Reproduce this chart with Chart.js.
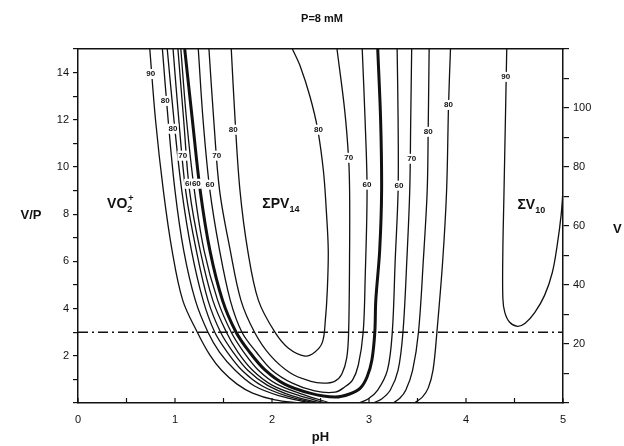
<!DOCTYPE html>
<html>
<head>
<meta charset="utf-8">
<script src="https://cdn.jsdelivr.net/npm/chart.js@4.4.1/dist/chart.umd.min.js"></script>
<style>
  html, body { margin: 0; padding: 0; background: #fff; }
  canvas { display: block; }
</style>
</head>
<body>
<canvas id="contours" width="624" height="446"></canvas>
<script>
// x = pH, left y = V/P, right y = V (P = 8 mM, so V = 8 * V/P)
const ink = '#111';

// VO2+ contours (left family)
const c1pH = [0.74, 0.80, 0.88, 0.97, 1.08, 1.23, 1.36, 1.48, 1.64, 1.80, 2.03, 2.29];
const c1VP = [15, 11.96, 9.0, 6.46, 4.35, 3.0, 2.03, 1.39, 0.80, 0.42, 0.13, 0];
const c2pH = [0.87, 0.93, 1.0, 1.09, 1.21, 1.34, 1.46, 1.62, 1.82, 2.08, 2.39];
const c2VP = [15, 11.96, 9.0, 6.46, 4.35, 3.0, 2.15, 1.39, 0.72, 0.30, 0];
const c3pH = [0.92, 0.99, 1.07, 1.17, 1.29, 1.41, 1.54, 1.69, 1.90, 2.15, 2.44];
const c3VP = [15, 11.96, 9.0, 6.46, 4.35, 3.0, 2.15, 1.39, 0.72, 0.30, 0];
const c4pH = [0.98, 1.04, 1.11, 1.22, 1.34, 1.47, 1.60, 1.75, 1.95, 2.21, 2.49];
const c4VP = [15, 11.96, 9.0, 6.46, 4.35, 3.0, 2.15, 1.39, 0.76, 0.30, 0];
const c5pH = [1.03, 1.09, 1.15, 1.26, 1.39, 1.53, 1.65, 1.80, 2.0, 2.26, 2.55];
const c5VP = [15, 11.96, 9.0, 6.46, 4.35, 3.0, 2.15, 1.39, 0.76, 0.34, 0];
const c6pH = [1.06, 1.12, 1.20, 1.30, 1.44, 1.58, 1.71, 1.86, 2.05, 2.31, 2.60];
const c6VP = [15, 11.96, 9.0, 6.46, 4.35, 3.0, 2.15, 1.39, 0.80, 0.38, 0];

// thick boundary and the PV14 U-shaped contours
const c7pH = [1.10, 1.18, 1.26, 1.36, 1.49, 1.63, 1.77, 1.93, 2.13, 2.39, 2.65, 2.80, 2.91, 2.98, 3.03, 3.06, 3.07, 3.11, 3.13, 3.12, 3.09];
const c7VP = [15, 11.96, 9.0, 6.46, 4.35, 3.0, 2.15, 1.39, 0.80, 0.42, 0.25, 0.38, 0.63, 1.10, 1.82, 3.0, 4.35, 6.46, 9.0, 11.96, 15];
const c8pH = [1.24, 1.29, 1.36, 1.46, 1.57, 1.69, 1.84, 2.0, 2.21, 2.44, 2.65, 2.75, 2.83, 2.89, 2.94, 2.96, 2.98, 2.96, 2.93];
const c8VP = [15, 11.96, 9.0, 6.46, 4.35, 3.0, 2.15, 1.39, 0.84, 0.51, 0.46, 0.68, 0.97, 1.61, 3.0, 5.20, 9.0, 11.96, 15];
const c9pH = [1.35, 1.40, 1.46, 1.57, 1.68, 1.82, 1.98, 2.19, 2.39, 2.53, 2.65, 2.72, 2.77, 2.79, 2.80, 2.80, 2.79, 2.75, 2.67];
const c9VP = [15, 11.96, 9.0, 6.46, 4.35, 3.0, 2.03, 1.27, 0.93, 0.84, 0.93, 1.23, 1.90, 3.0, 6.46, 9.0, 10.35, 12.38, 15];
const c10pH = [1.58, 1.62, 1.67, 1.75, 1.86, 2.03, 2.17, 2.34, 2.44, 2.52, 2.55, 2.57, 2.58, 2.56, 2.53, 2.47, 2.39, 2.29, 2.21];
const c10VP = [15, 11.96, 9.0, 6.46, 4.35, 3.0, 2.32, 1.99, 2.15, 2.58, 3.51, 4.77, 6.46, 8.15, 9.84, 11.62, 13.01, 14.28, 15];

// V10 contours rising from the bottom
const r1pH = [3.29, 3.30, 3.30, 3.27, 3.24, 3.19, 3.09, 2.99, 2.89];
const r1VP = [15, 11.96, 9.0, 6.04, 3.0, 1.39, 0.55, 0.17, 0];
const r2pH = [3.44, 3.43, 3.42, 3.39, 3.35, 3.30, 3.22, 3.13, 3.04];
const r2VP = [15, 11.96, 9.0, 6.04, 3.0, 1.39, 0.55, 0.17, 0];
const r3pH = [3.62, 3.61, 3.60, 3.56, 3.51, 3.45, 3.38, 3.32, 3.25];
const r3VP = [15, 11.49, 9.0, 6.04, 3.0, 1.39, 0.55, 0.21, 0];
const r4pH = [3.84, 3.82, 3.80, 3.76, 3.70, 3.66, 3.61, 3.55, 3.47];
const r4VP = [15, 12.63, 9.0, 6.04, 3.0, 1.39, 0.63, 0.25, 0];
const loopPH = [4.42, 4.41, 4.40, 4.39, 4.38, 4.38, 4.40, 4.45, 4.53, 4.61, 4.71, 4.81, 4.89, 4.94, 4.98, 5.0];
const loopVP = [15, 12.80, 10.69, 8.58, 6.46, 4.44, 3.84, 3.42, 3.25, 3.38, 3.84, 4.56, 5.53, 6.68, 7.94, 9.0];

// V/P = 3 reference line
const refPH = [0, 5];
const refVP = [3, 3];

// contour value labels
const labelText = ['90', '80', '80', '70', '60', '60', '60', '70', '80', '80', '70', '60', '60', '70', '80', '80', '90'];
const labelPH = [0.75, 0.90, 0.98, 1.08, 1.15, 1.22, 1.36, 1.43, 1.60, 2.48, 2.79, 2.98, 3.31, 3.44, 3.61, 3.82, 4.41];
const labelVP = [13.94, 12.80, 11.62, 10.48, 9.29, 9.29, 9.25, 10.48, 11.58, 11.58, 10.39, 9.25, 9.21, 10.35, 11.49, 12.63, 13.82];

const toPoints = (xs, ys) => xs.map((x, i) => ({ x: x, y: ys[i] }));

const curves = [
  [c1pH, c1VP, 1.3], [c2pH, c2VP, 1.3], [c3pH, c3VP, 1.3], [c4pH, c4VP, 1.3],
  [c5pH, c5VP, 1.3], [c6pH, c6VP, 1.3], [c7pH, c7VP, 3], [c8pH, c8VP, 1.3],
  [c9pH, c9VP, 1.3], [c10pH, c10VP, 1.3], [r1pH, r1VP, 1.3], [r2pH, r2VP, 1.3],
  [r3pH, r3VP, 1.3], [r4pH, r4VP, 1.3], [loopPH, loopVP, 1.3]
];

const datasets = curves.map(c => ({
  data: toPoints(c[0], c[1]),
  showLine: true,
  borderColor: ink,
  borderWidth: c[2],
  pointRadius: 0,
  tension: 0.35
}));
datasets.push({
  data: toPoints(refPH, refVP),
  showLine: true,
  borderColor: ink,
  borderWidth: 1.5,
  borderDash: [10, 4, 2, 4],
  pointRadius: 0
});

function drawRich(ctx, x, y, parts) {
  let cx = x;
  parts.forEach(p => {
    ctx.font = 'bold ' + p.size + 'px "Liberation Sans", Arial, sans-serif';
    ctx.fillText(p.t, cx, y + (p.dy || 0));
    cx += ctx.measureText(p.t).width + (p.gap || 0);
  });
}

const decorations = {
  id: 'decorations',
  afterDatasetsDraw(chart) {
    const ctx = chart.ctx;
    const xs = chart.scales.x;
    const ys = chart.scales.y;
    const area = chart.chartArea;
    ctx.save();

    // inward ticks on the pH axis
    ctx.strokeStyle = ink;
    ctx.lineWidth = 1.2;
    xs.ticks.forEach(t => {
      const px = xs.getPixelForValue(t.value);
      ctx.beginPath();
      ctx.moveTo(px, area.bottom);
      ctx.lineTo(px, area.bottom - 5);
      ctx.stroke();
    });

    // contour value labels
    ctx.font = 'bold 8px "Liberation Sans", Arial, sans-serif';
    ctx.textAlign = 'center';
    ctx.textBaseline = 'middle';
    labelText.forEach((t, i) => {
      const px = xs.getPixelForValue(labelPH[i]);
      const py = ys.getPixelForValue(labelVP[i]);
      const w = ctx.measureText(t).width + 2;
      ctx.fillStyle = '#fff';
      ctx.fillRect(px - w / 2, py - 5, w, 10);
      ctx.fillStyle = ink;
      ctx.fillText(t, px, py);
    });

    // region names
    ctx.textAlign = 'left';
    ctx.textBaseline = 'alphabetic';
    ctx.fillStyle = ink;
    drawRich(ctx, xs.getPixelForValue(0.30), ys.getPixelForValue(8.28), [
      { t: 'VO', size: 14 }, { t: '2', size: 9, dy: 4, gap: -4 }, { t: '+', size: 9, dy: -7 }
    ]);
    drawRich(ctx, xs.getPixelForValue(1.90), ys.getPixelForValue(8.28), [
      { t: 'ΣPV', size: 14 }, { t: '14', size: 9, dy: 4 }
    ]);
    drawRich(ctx, xs.getPixelForValue(4.53), ys.getPixelForValue(8.24), [
      { t: 'ΣV', size: 14 }, { t: '10', size: 9, dy: 4 }
    ]);

    // titles
    ctx.textAlign = 'center';
    ctx.font = 'bold 11px "Liberation Sans", Arial, sans-serif';
    ctx.fillText('P=8 mM', 322, 22);
    ctx.font = 'bold 13px "Liberation Sans", Arial, sans-serif';
    ctx.fillText('pH', (area.left + area.right) / 2, 441);
    ctx.fillText('V/P', 31, 219);
    ctx.textAlign = 'left';
    ctx.fillText('V', 613, 233);
    ctx.restore();
  }
};

const axisFont = { family: '"Liberation Sans", Arial, sans-serif', size: 11 };

new Chart(document.getElementById('contours'), {
  type: 'scatter',
  data: { datasets },
  options: {
    responsive: false,
    animation: false,
    devicePixelRatio: 1,
    layout: { padding: 0 },
    plugins: { legend: { display: false }, title: { display: false }, tooltip: { enabled: false } },
    scales: {
      x: {
        type: 'linear', position: 'bottom', min: 0, max: 5,
        afterFit: s => { s.height = 43; },
        ticks: { stepSize: 0.5, color: ink, font: axisFont, padding: 10, maxRotation: 0,
          callback: v => (Number.isInteger(v) ? String(v) : '') },
        grid: { drawOnChartArea: false, drawTicks: false },
        border: { color: ink, width: 1.5 }
      },
      xTop: {
        type: 'linear', position: 'top', min: 0, max: 5,
        afterFit: s => { s.height = 49; },
        ticks: { display: false },
        grid: { drawOnChartArea: false, drawTicks: false },
        border: { color: ink, width: 1.5 }
      },
      y: {
        type: 'linear', position: 'left', min: 0, max: 15,
        afterFit: s => { s.width = 78; },
        ticks: { stepSize: 1, color: ink, font: axisFont, padding: 4,
          callback: v => (v > 0 && v < 15 && v % 2 === 0 ? String(v) : '') },
        grid: { drawOnChartArea: false, tickLength: 5, color: ink, lineWidth: 1.2 },
        border: { color: ink, width: 1.5 }
      },
      yV: {
        type: 'linear', position: 'right', min: 0, max: 120,
        afterFit: s => { s.width = 61; },
        ticks: { stepSize: 10, color: ink, font: axisFont, padding: 4,
          callback: v => (v > 0 && v < 120 && v % 20 === 0 ? String(v) : '') },
        grid: { drawOnChartArea: false, tickLength: 6, color: ink, lineWidth: 1.2 },
        border: { color: ink, width: 1.5 }
      }
    }
  },
  plugins: [decorations]
});
</script>
</body>
</html>
